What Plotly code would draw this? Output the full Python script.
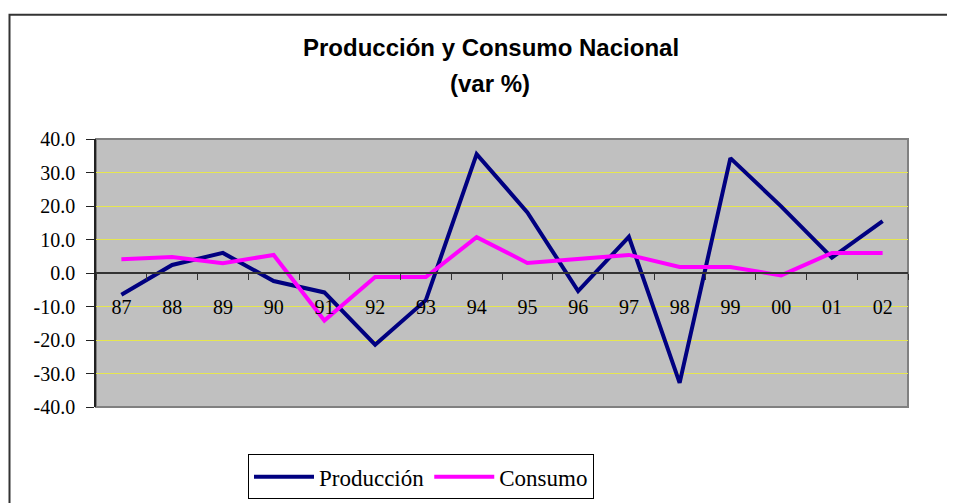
import plotly.graph_objects as go

years = ["87", "88", "89", "90", "91", "92", "93", "94", "95", "96", "97", "98", "99", "00", "01", "02"]
produccion = [-6.5, 2.4, 6.0, -2.4, -5.8, -21.4, -8.1, 35.5, 18.1, -5.4, 10.8, -32.8, 34.3, 19.9, 4.6, 15.5]
consumo = [4.1, 4.8, 2.9, 5.4, -14.2, -1.2, -1.2, 10.7, 3.0, 4.2, 5.4, 1.8, 1.8, -0.7, 6.0, 6.0]
y_ticks = [-40, -30, -20, -10, 0, 10, 20, 30, 40]
title_lines = ["Producción y Consumo Nacional", "(var %)"]

serif = "Liberation Serif, Times New Roman, serif"
sans = "Liberation Sans, Arial, sans-serif"

# page is offset by the browser's default 8px body margin; layout below compensates
OFF = 8
L, R, T, B = 96 - OFF, 908 - OFF, 139 - OFF, 411 - OFF
PW, PH = R - L, B - T


def px(x):
    return (x - OFF - L) / PW


def py(y):
    return (B - (y - OFF)) / PH


fig = go.Figure()
fig.add_trace(go.Scatter(x=years, y=produccion, mode="lines", name="Producción",
                         line=dict(color="#000080", width=4)))
fig.add_trace(go.Scatter(x=years, y=consumo, mode="lines", name="Consumo",
                         line=dict(color="#FF00FF", width=4)))

fig.update_layout(
    width=955, height=503,
    margin=dict(l=L, r=955 - R, t=T, b=503 - B),
    paper_bgcolor="white",
    plot_bgcolor="#C0C0C0",
    showlegend=True,
    legend=dict(orientation="h", x=px(248), y=py(459), xanchor="left", yanchor="top",
                bordercolor="black", borderwidth=1, bgcolor="white",
                font=dict(family=serif, size=23, color="black"),
                itemwidth=60, tracegroupgap=0),
    xaxis=dict(type="category", categoryorder="array", categoryarray=years,
               anchor="free", position=0.5, showline=True, linecolor="#333333", linewidth=1.5,
               ticks="outside", tickson="boundaries", ticklen=6, tickcolor="#333333",
               showgrid=False, zeroline=False,
               tickfont=dict(family=serif, size=20, color="black"),
               ticklabelstandoff=16, range=[-0.5, 15.5], fixedrange=True),
    yaxis=dict(range=[-40, 40], tickvals=y_ticks, ticktext=[f"{v:.1f}" for v in y_ticks],
               showline=True, linecolor="#222222", linewidth=1.5,
               ticks="outside", ticklen=8, tickcolor="#222222",
               showgrid=True, gridcolor="#E6E650", gridwidth=1, zeroline=False,
               ticklabelstandoff=7,
               tickfont=dict(family=serif, size=20, color="black"), fixedrange=True),
    shapes=[
        dict(type="rect", xref="paper", yref="paper", x0=0, x1=1, y0=0, y1=1,
             line=dict(color="#808080", width=2), fillcolor="rgba(0,0,0,0)", layer="below"),
        dict(type="rect", xref="paper", yref="paper", x0=px(OFF + 1.5), x1=px(975),
             y0=py(530), y1=py(13),
             line=dict(color="#333333", width=2), fillcolor="rgba(0,0,0,0)"),
    ],
    annotations=[
        dict(text=f"<b>{title_lines[0]}</b>", xref="paper", yref="paper",
             x=px(491), y=py(46), xanchor="center", yanchor="middle",
             showarrow=False, font=dict(family=sans, size=24, color="black")),
        dict(text=f"<b>{title_lines[1]}</b>", xref="paper", yref="paper",
             x=px(490), y=py(83), xanchor="center", yanchor="middle",
             showarrow=False, font=dict(family=sans, size=24, color="black")),
    ],
)

fig.write_html("out.html")
